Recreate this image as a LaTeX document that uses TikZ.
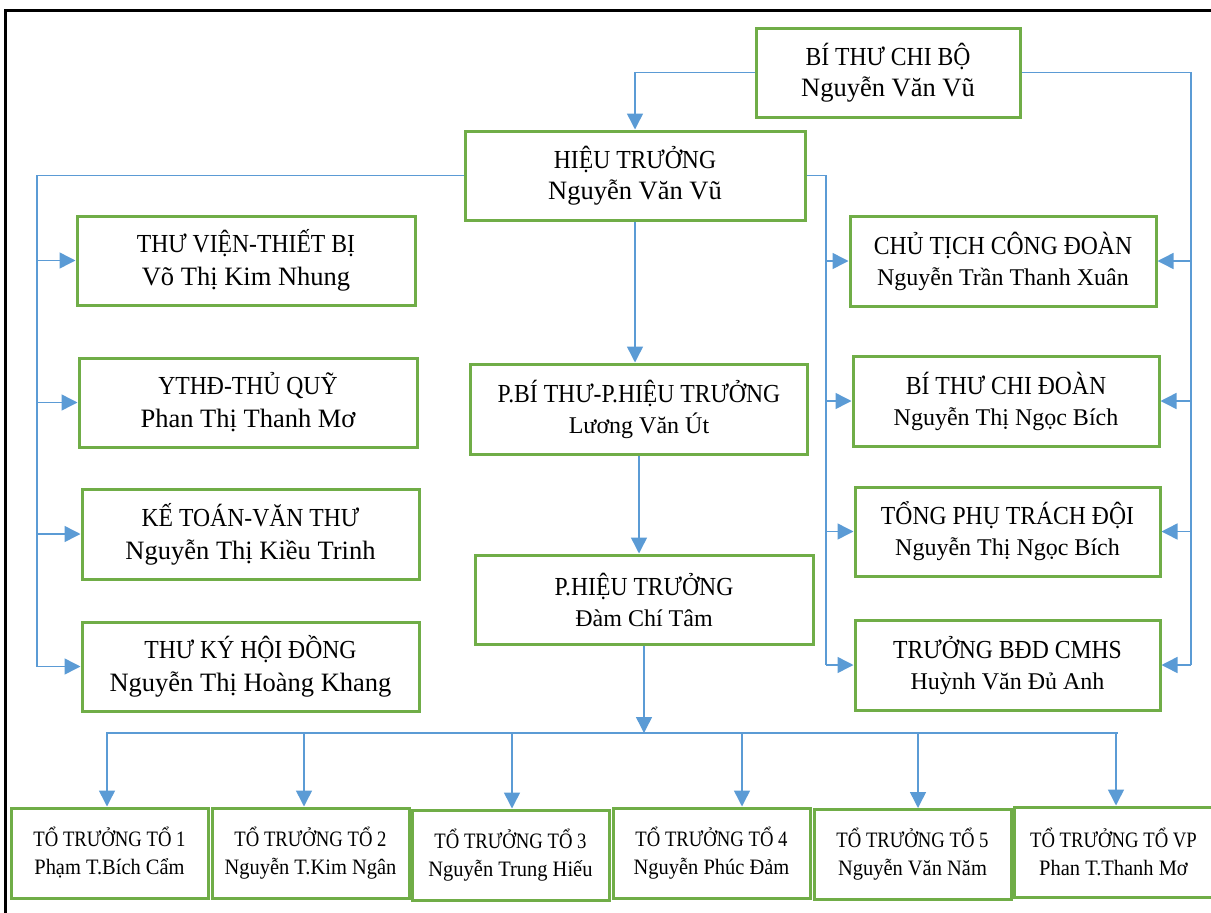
\documentclass[tikz,border=0pt]{standalone}
\usepackage{fontspec}
\setmainfont{Liberation Serif}
\newfontfamily\capf[FakeStretch=0.91]{Liberation Serif}
\newfontfamily\condf[FakeStretch=0.85]{Liberation Serif}
\newfontfamily\condn[FakeStretch=0.93]{Liberation Serif}
\usetikzlibrary{arrows.meta}
\definecolor{boxgreen}{HTML}{70AD47}
\definecolor{lineblue}{HTML}{5B9BD5}
\newcommand{\capl}[1]{{\capf\fontsize{26}{31}\selectfont #1}}
\newcommand{\nml}[1]{{\fontsize{24}{31}\selectfont #1}}
\newcommand{\namebig}[1]{{\fontsize{26.5}{31}\selectfont #1}}
\newcommand{\sname}[1]{{\condn #1}}
\tikzset{
  box/.style 2 args={draw=boxgreen, line width=3pt, fill=white, rectangle,
    minimum width=#1, minimum height=#2, inner sep=0pt, align=center,
    font=\fontsize{24}{31}\selectfont},
  lbox/.style 2 args={box={#1}{#2}, font=\fontsize{24}{33}\selectfont},
  sbox/.style={box={197pt}{90pt}, font=\condf\fontsize{22}{28}\selectfont},
  conn/.style={draw=lineblue, line width=1.5pt},
  arr/.style={conn, -{Triangle[length=16pt,width=16pt]}},
  frame/.style={draw=black, line width=3pt}
}
\begin{document}
\begin{tikzpicture}[x=1pt,y=-1pt]
\useasboundingbox (0,0) rectangle (1211,913);
\clip (0,0) rectangle (1211,913);
\draw[frame] (5,920) -- (5,10) -- (1220,10);

% top
\node[box={264pt}{89pt}] (bt) at (888,72.5) {\capl{BÍ THƯ CHI BỘ}\\\namebig{Nguyễn Văn Vũ}};
\node[box={340pt}{89pt}] (ht) at (635,175.5) {\capl{HIỆU TRƯỞNG}\\\namebig{Nguyễn Văn Vũ}};

% left column
\node[lbox={338pt}{89pt}] (tv) at (246,260.5) {\capl{THƯ VIỆN-THIẾT BỊ}\\\namebig{Võ Thị Kim Nhung}};
\node[lbox={338pt}{89pt}] (yt) at (248,402.5) {\capl{YTHĐ-THỦ QUỸ}\\\namebig{Phan Thị Thanh Mơ}};
\node[lbox={337pt}{90pt}] (kt) at (250.5,534) {\capl{KẾ TOÁN-VĂN THƯ}\\\namebig{Nguyễn Thị Kiều Trinh}};
\node[lbox={337pt}{89pt}] (tk) at (250.5,666.5) {\capl{THƯ KÝ HỘI ĐỒNG}\\\namebig{Nguyễn Thị Hoàng Khang}};

% center column
\node[box={337pt}{90pt}] (pbt) at (639,409) {\capl{P.BÍ THƯ-P.HIỆU TRƯỞNG}\\\nml{Lương Văn Út}};
\node[box={338pt}{89pt}] (pht) at (644,599.5) {\capl{P.HIỆU TRƯỞNG}\\\nml{Đàm Chí Tâm}};

% right column
\node[box={306pt}{90pt}] (ct) at (1003,261) {\capl{CHỦ TỊCH CÔNG ĐOÀN}\\\nml{Nguyễn Trần Thanh Xuân}};
\node[box={306pt}{90pt}] (bc) at (1006,401) {\capl{BÍ THƯ CHI ĐOÀN}\\\nml{Nguyễn Thị Ngọc Bích}};
\node[box={305pt}{89pt}] (tp) at (1007.5,531.5) {\capl{TỔNG PHỤ TRÁCH ĐỘI}\\\nml{Nguyễn Thị Ngọc Bích}};
\node[box={305pt}{90pt}] (tb) at (1007.5,665) {\capl{TRƯỞNG BĐD CMHS}\\\nml{Huỳnh Văn Đủ Anh}};

% bottom row
\node[sbox] (t1) at (109.5,853) {TỔ TRƯỞNG TỔ 1\\\sname{Phạm T.Bích Cẩm}};
\node[sbox] (t2) at (310.5,853) {TỔ TRƯỞNG TỔ 2\\\sname{Nguyễn T.Kim Ngân}};
\node[sbox] (t3) at (510.5,855) {TỔ TRƯỞNG TỔ 3\\\sname{Nguyễn Trung Hiếu}};
\node[sbox] (t4) at (711.5,853) {TỔ TRƯỞNG TỔ 4\\\sname{Nguyễn Phúc Đảm}};
\node[sbox] (t5) at (912.5,854.5) {TỔ TRƯỞNG TỔ 5\\\sname{Nguyễn Văn Năm}};
\node[sbox, minimum width=199pt] (t6) at (1113.5,852) {TỔ TRƯỞNG TỔ VP\\\sname{Phan T.Thanh Mơ}};

% bus coordinates
\coordinate (rbus) at (1191,665);
\coordinate (lbus) at (37,666.5);
\coordinate (mbus) at (826,665);
\coordinate (busL) at (106,733);
\coordinate (busR) at (1118,733);
\coordinate (d1) at (107,733);
\coordinate (d2) at (304,733);
\coordinate (d3) at (512,733);
\coordinate (d4) at (742,733);
\coordinate (d5) at (918,733);
\coordinate (d6) at (1116,733);

% top connectors
\draw[arr] (bt.west) -| (ht.north);
\draw[conn] (bt.east) -| (rbus);
\foreach \n in {ct,bc,tp,tb} \draw[arr] (rbus |- \n.east) -- (\n.east);

\draw[conn] (ht.west) -| (lbus);
\foreach \n in {tv,yt,kt,tk} \draw[arr] (lbus |- \n.west) -- (\n.west);

\draw[conn] (ht.east) -| (mbus);
\foreach \n in {ct,bc,tp,tb} \draw[arr] (mbus |- \n.west) -- (\n.west);

% center chain
\draw[arr] (ht.south) -- (ht.south |- pbt.north);
\draw[arr] (pbt.south) -- (pbt.south |- pht.north);
\draw[arr] (pht.south) -- (pht.south |- busL);

% bottom bus
\draw[conn] (busL) -- (busR);
\draw[arr] (d1) -- (d1 |- t1.north);
\draw[arr] (d2) -- (d2 |- t2.north);
\draw[arr] (d3) -- (d3 |- t3.north);
\draw[arr] (d4) -- (d4 |- t4.north);
\draw[arr] (d5) -- (d5 |- t5.north);
\draw[arr] (d6) -- (d6 |- t6.north);
\end{tikzpicture}
\end{document}
